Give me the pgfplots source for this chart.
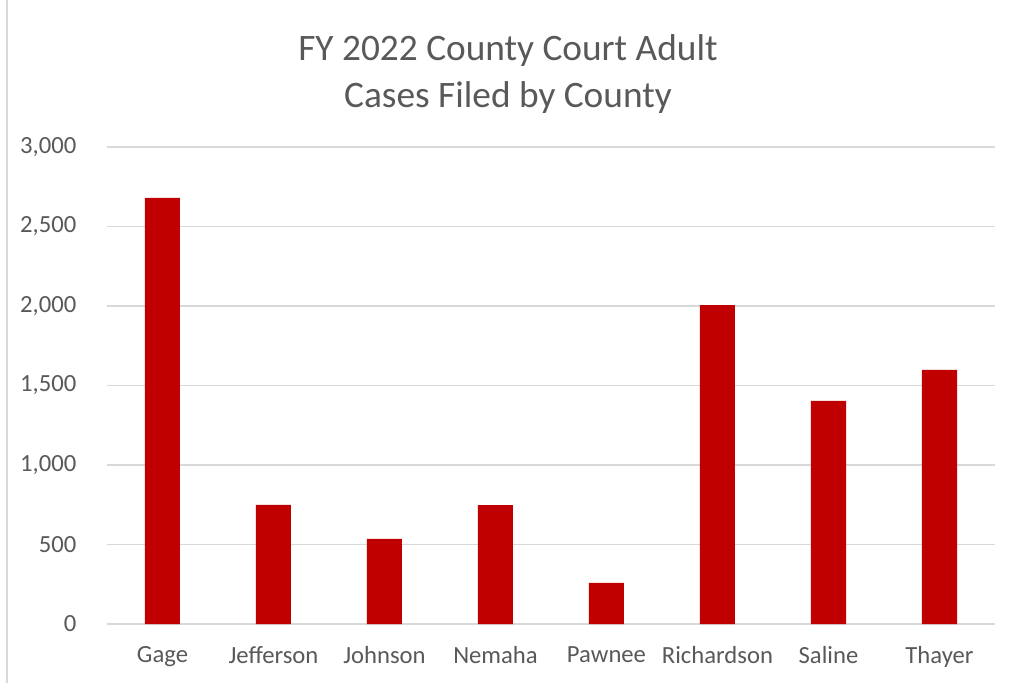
\documentclass[border=0pt]{standalone}
\usepackage{pgfplots}
\pgfplotsset{compat=1.18}
\usepackage{fontspec}
\setmainfont{Carlito}
\definecolor{barred}{HTML}{C00000}
\definecolor{txtgray}{HTML}{595959}
\definecolor{gridgray}{HTML}{D9D9D9}
\begin{document}
\begin{tikzpicture}[x=0.75pt,y=0.75pt]
% frame of the whole picture, in px (axis origin = lower left of plot area)
\path[use as bounding box] (-107,-59) rectangle (906,624);
\draw[gridgray, line width=1.5pt] (-100,-59) -- (-100,624);
\begin{axis}[
  at={(0,0)}, anchor=south west,
  scale only axis,
  width=666pt, height=357.75pt,
  ybar,
  bar width=26.25pt,
  xmin=-0.5, xmax=7.5,
  ymin=0, ymax=3000,
  ytick={0,500,...,3000},
  xtick={0,...,7},
  xticklabels={Gage,Jefferson,Johnson,Nemaha,Pawnee,Richardson,Saline,Thayer},
  /pgf/number format/assume math mode=true,
  /pgf/number format/1000 sep={,},
  ticklabel style={font=\fontsize{18.5}{22}\selectfont, text=txtgray},
  yticklabel style={xshift=-19.5pt},
  xticklabel style={yshift=-9pt},
  axis line style={draw=none},
  axis x line*=bottom,
  x axis line style={draw=gridgray, line width=1pt},
  ymajorgrids,
  grid style={gridgray, line width=1pt},
  tick style={draw=none},
  clip=false,
]
\addplot[fill=barred, draw=none] coordinates {
  (0,2680) (1,750) (2,535) (3,748) (4,258) (5,2006) (6,1403) (7,1598)
};
\end{axis}
\node[font=\fontsize{28}{35.25}\selectfont, text=txtgray, align=center]
  at (401,550) {FY 2022 County Court Adult\\Cases Filed by County};
\end{tikzpicture}
\end{document}
